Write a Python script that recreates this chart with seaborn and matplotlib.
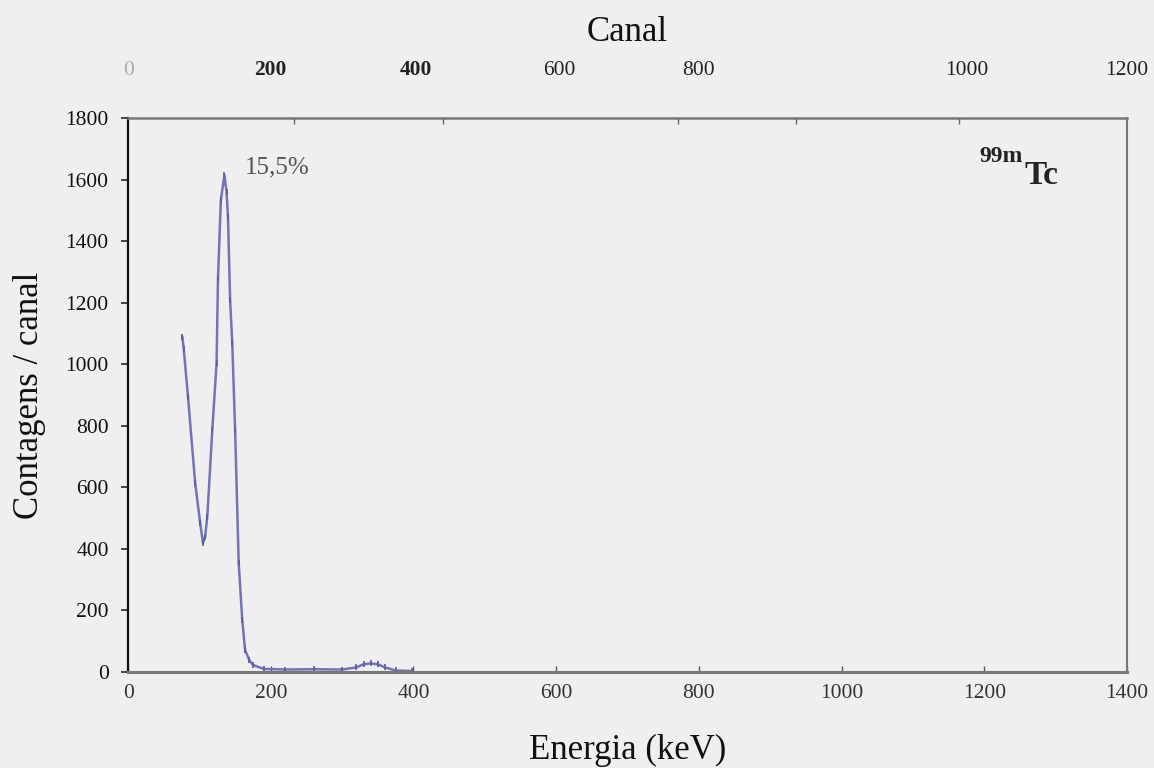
import matplotlib
matplotlib.use("Agg")
import matplotlib.pyplot as plt
import numpy as np
import pandas as pd
import seaborn as sns

# Spectrum of 99mTc: energy (keV) vs counts per channel
energia = [76, 78, 84, 94, 101, 105, 108, 111, 118, 124, 126, 130, 135, 138, 140,
           143, 146, 150, 155, 160, 164, 170, 175, 190, 220, 260, 300, 320, 330,
           340, 350, 360, 375, 398]
contagens = [1090, 1050, 893, 614, 484, 419, 440, 504, 786, 1003, 1280, 1533, 1614,
             1560, 1478, 1208, 1068, 786, 354, 169, 71, 38, 23, 10, 8, 9, 8, 15, 25,
             28, 25, 15, 5, 3]

energia_ticks = [0, 200, 400, 600, 800, 1000, 1200, 1400]
contagens_ticks = [0, 200, 400, 600, 800, 1000, 1200, 1400, 1600, 1800]
canal_labels = ["0", "200", "400", "600", "800", "1000", "1200"]

df = pd.DataFrame({"Energia": energia, "Contagens": contagens})

sns.set_theme(style="ticks")
plt.rcParams["font.family"] = ["Liberation Serif", "DejaVu Serif"]

bg = "#efefef"
fig = plt.figure(figsize=(11.54, 7.68), dpi=100, facecolor=bg)
ax = fig.add_axes([0.111, 0.125, 0.8656, 0.7214])
ax.set_facecolor(bg)

sns.lineplot(data=df, x="Energia", y="Contagens", ax=ax, color="#7374b8",
             linewidth=1.8, marker="|", markersize=5, markeredgecolor="#5a5c9e",
             markeredgewidth=1.2)

ax.set_xlim(0, 1400)
ax.set_ylim(0, 1800)
ax.set_xticks(energia_ticks)
ax.set_xticklabels([str(t) for t in energia_ticks])
ax.get_xticklabels()[0].set_color("#999999")
ax.set_yticks(contagens_ticks)
ax.tick_params(axis="x", direction="in", length=4, width=1, colors="#555555",
               labelsize=15.5, labelcolor="#333333", pad=9)
ax.tick_params(axis="y", direction="out", length=5, width=1.2, labelsize=15.5,
               labelcolor="#111111", pad=9)

ax.set_xlabel("Energia (keV)", fontsize=25, labelpad=22, color="#111111")
ax.set_ylabel("Contagens / canal", fontsize=25, labelpad=14, color="#111111")

for side, col, lw in [("left", "#111111", 1.6), ("bottom", "#777777", 2.2),
                      ("top", "#777777", 1.8), ("right", "#777777", 1.5)]:
    ax.spines[side].set_color(col)
    ax.spines[side].set_linewidth(lw)

# Channel axis on top
top = ax.twiny()
top.set_xlim(ax.get_xlim())
canal_pos = [0, 200, 403, 605, 800, 1176, 1400]
top.set_xticks(canal_pos)
top.set_xticklabels(canal_labels)
top.set_xticks([232, 441, 605, 771, 936, 1165], minor=True)
top.tick_params(axis="x", which="major", length=0, labelsize=15.5, pad=27,
                labelcolor="#222222")
top.tick_params(axis="x", which="minor", direction="in", length=4, width=1,
                color="#666666")
labels = top.get_xticklabels()
labels[0].set_color("#aaaaaa")
for i in (1, 2):
    labels[i].set_fontweight("bold")
top.set_xlabel("Canal", fontsize=25, labelpad=14, color="#111111")
for s in top.spines.values():
    s.set_visible(False)

ax.text(163, 1640, "15,5%", fontsize=18, color="#555555", va="center")
ax.annotate("Tc", xy=(1256, 1612), fontsize=24, fontweight="bold",
            color="#222222", va="center", ha="left")
ax.annotate("99m", xy=(1256, 1612), xytext=(-1, 6), textcoords="offset points",
            fontsize=17, fontweight="bold", color="#222222", va="bottom",
            ha="right")

fig.savefig("out.png", dpi=100, facecolor=bg)
